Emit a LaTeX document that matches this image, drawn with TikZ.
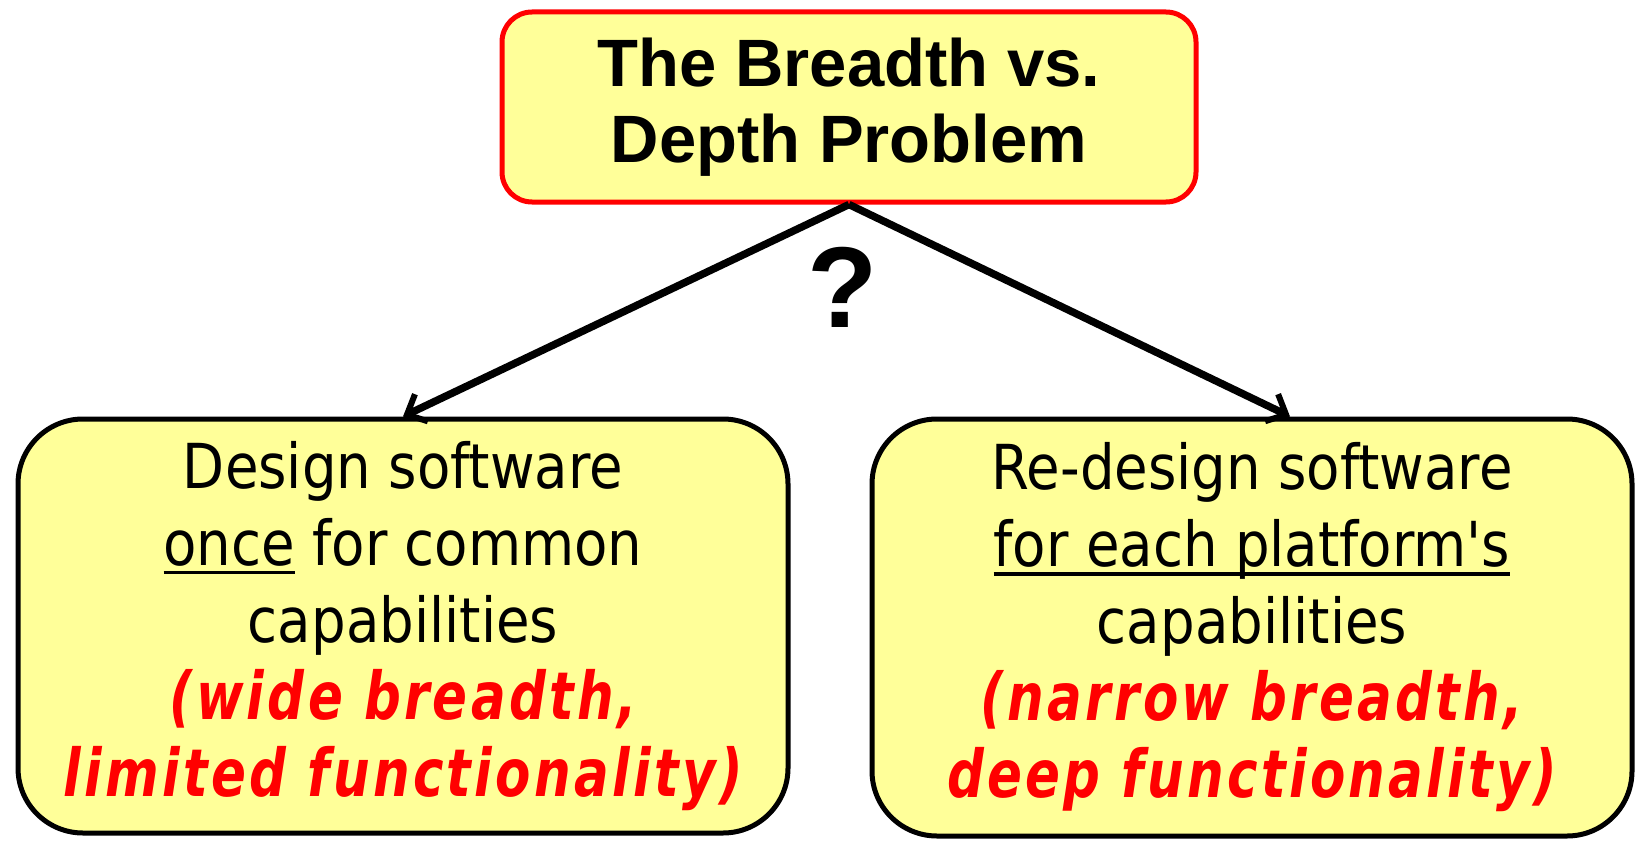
\documentclass[tikz,border=0pt]{standalone}
\usepackage{fontspec}
\usetikzlibrary{arrows.meta}
\newfontfamily\titlefont{Liberation Sans}
\newfontfamily\blkfont{DejaVu Sans}[FakeStretch=0.88]
\newfontfamily\redfont{DejaVu Sans Bold Oblique}[FakeStretch=0.78,LetterSpace=5]
\definecolor{boxyellow}{RGB}{255,255,153}
\definecolor{hotred}{RGB}{255,0,0}
\newcommand\myul[1]{\setbox0=\hbox{#1}\rlap{\rule[-9pt]{\wd0}{3.5pt}}\box0\relax}
\newcommand\redline[1]{{\redfont\color{hotred}\fontsize{66}{77}\selectfont #1}}
\begin{document}
\begin{tikzpicture}[x=1pt,y=-1pt,
  titlebox/.style={draw=hotred, line width=5pt, fill=boxyellow, rounded corners=30pt,
    minimum width=694pt, minimum height=190pt, align=center,
    font=\titlefont\bfseries\fontsize{67}{76}\selectfont},
  choicebox/.style={draw=black, line width=5pt, fill=boxyellow, rounded corners=65pt,
    align=center, font=\blkfont\fontsize{62}{77}\selectfont},
  arr/.style={draw=black, line width=7.5pt, -{Straight Barb[length=16pt,width=30pt,line width=6pt]}}
]
\useasboundingbox (0,0) rectangle (1637,840);
\node[titlebox] (top) at (849,107) {The Breadth vs.\\Depth Problem};
\node[choicebox, minimum width=770pt, minimum height=414pt] (lb) at (403,626)
  {Design software\\\myul{once} for common\\capabilities\\\redline{(wide breadth,}\\\redline{limited functionality)}};
\node[choicebox, minimum width=760pt, minimum height=417pt] (rb) at (1252,627.5)
  {Re-design software\\\myul{for each platform's}\\capabilities\\\redline{(narrow breadth,}\\\redline{deep functionality)}};
\node[font=\titlefont\bfseries\fontsize{115}{115}\selectfont] (q) at (843,287) {?};
\draw[arr] (top.south) -- (lb.north);
\draw[arr] (top.south) -- ([xshift=38pt]rb.north);
\end{tikzpicture}
\end{document}
